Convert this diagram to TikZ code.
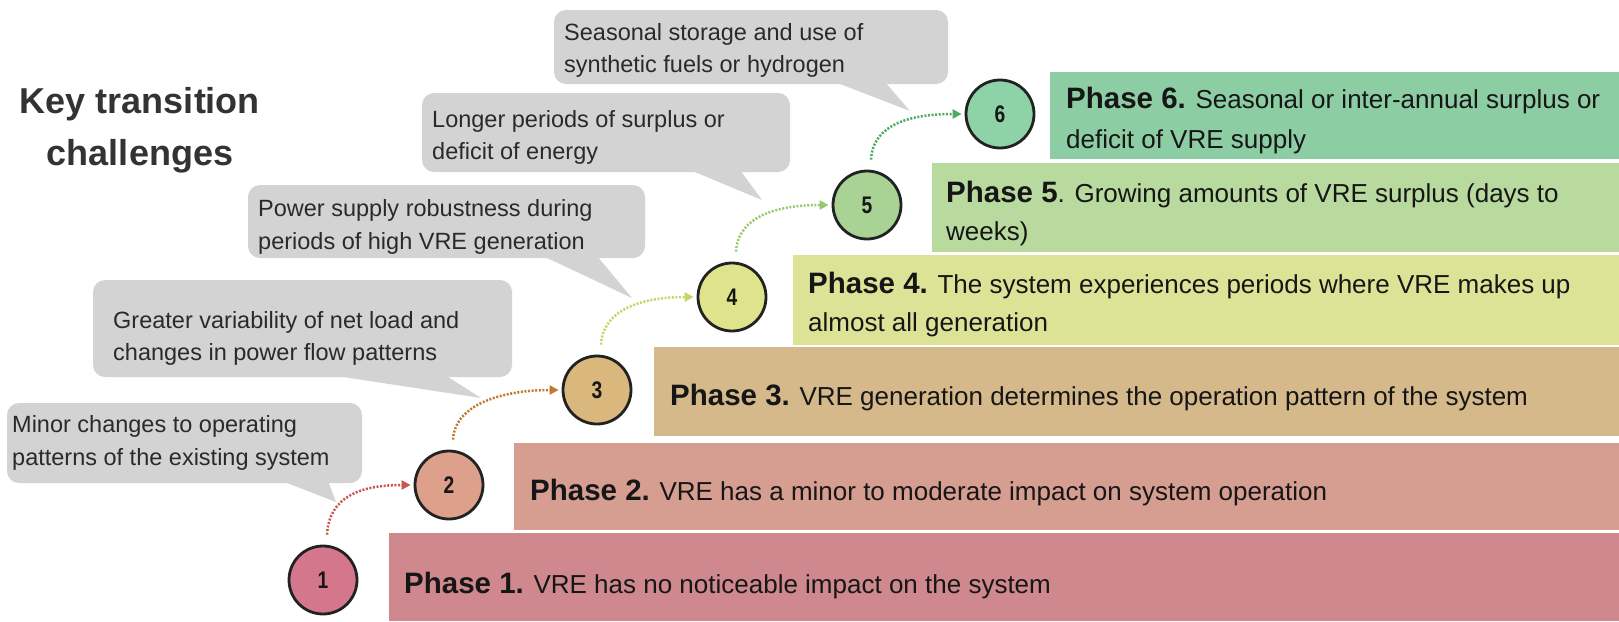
\documentclass[tikz,border=0pt]{standalone}
\usepackage{fontspec}
\setmainfont{Liberation Sans}
\newfontfamily\numfont[FakeStretch=0.8]{Liberation Sans}
\usetikzlibrary{arrows.meta,calc}

% bar fills
\definecolor{barA}{HTML}{CF888D}
\definecolor{barB}{HTML}{D69D91}
\definecolor{barC}{HTML}{D5B98B}
\definecolor{barD}{HTML}{DDE396}
\definecolor{barE}{HTML}{B9DA9E}
\definecolor{barF}{HTML}{8DCDA4}
% circle fills
\definecolor{dotA}{HTML}{D4768C}
\definecolor{dotB}{HTML}{DDA08A}
\definecolor{dotC}{HTML}{D9B77D}
\definecolor{dotD}{HTML}{DEE38C}
\definecolor{dotE}{HTML}{A8D395}
\definecolor{dotF}{HTML}{8ED3A8}
% connector colours
\definecolor{lnA}{HTML}{C8554F}
\definecolor{lnB}{HTML}{C07A2E}
\definecolor{lnC}{HTML}{C9D36A}
\definecolor{lnD}{HTML}{98C96C}
\definecolor{lnE}{HTML}{4EAA60}
\definecolor{callgrey}{HTML}{D3D3D3}
\definecolor{ring}{HTML}{222222}
\definecolor{ink}{HTML}{161616}
\definecolor{calltext}{HTML}{2A2A2A}
\definecolor{titletext}{HTML}{333333}

\newcommand\phasehead[1]{{\fontsize{29.5}{35}\selectfont\bfseries #1}}

\begin{document}
\begin{tikzpicture}[x=1pt,y=-1pt,
  stage/.style={circle, draw=ring, line width=2.8pt, minimum size=68pt, inner sep=0pt,
    text=ink, font=\numfont\bfseries\fontsize{24}{24}\selectfont},
  phasetext/.style={anchor=base west, inner sep=0pt, text=ink,
    font=\fontsize{26}{31}\selectfont},
  calltxt/.style={anchor=base west, inner sep=0pt, text=calltext,
    font=\fontsize{23.5}{32}\selectfont},
  titletxt/.style={anchor=base, inner sep=0pt, text=titletext,
    font=\fontsize{36}{44}\selectfont\bfseries},
  callbox/.style={fill=callgrey, rounded corners=12pt},
  callptr/.style={fill=callgrey},
  link/.style={line width=2.5pt, dash pattern=on 2pt off 1.6pt,
    -{Triangle[length=9pt,width=9pt]}}
]
\useasboundingbox (0,0) rectangle (1619,621);
\fill[white] (0,0) rectangle (1619,621);

% staircase of phase bars
\fill[barA] (389,533) rectangle (1619,621);
\fill[barB] (514,443) rectangle (1619,530);
\fill[barC] (654,347) rectangle (1619,436);
\fill[barD] (793,255) rectangle (1619,345);
\fill[barE] (932,163) rectangle (1619,252);
\fill[barF] (1050,72) rectangle (1619,159);

% phase descriptions
\node[phasetext] (p1) at (404,593) {\phasehead{Phase 1.} VRE has no noticeable impact on the system};
\node[phasetext] (p2) at (530,500) {\phasehead{Phase 2.} VRE has a minor to moderate impact on system operation};
\node[phasetext] (p3) at (670,405) {\phasehead{Phase 3.} VRE generation determines the operation pattern of the system};
\node[phasetext] (p4) at (808,293) {\phasehead{Phase 4.} The system experiences periods where VRE makes up};
\node[phasetext] (p4b) at (808,331) {almost all generation};
\node[phasetext] (p5) at (946,202) {\phasehead{Phase 5}. Growing amounts of VRE surplus (days to};
\node[phasetext] (p5b) at (946,240) {weeks)};
\node[phasetext] (p6) at (1066,108) {\phasehead{Phase 6.} Seasonal or inter-annual surplus or};
\node[phasetext] (p6b) at (1066,148) {deficit of VRE supply};

% title
\node[titletxt] (title1) at (140,113) {Key transition};
\node[titletxt] (title2) at (140,165) {challenges};

% callouts: rounded box plus a wedge pointing at the step
\fill[callbox] (554,10) rectangle (948,84);
\fill[callptr] (835,82) -- (885,82) -- (910,111) -- cycle;
\coordinate (tipE) at (910,111);
\fill[callbox] (422,93) rectangle (790,172);
\fill[callptr] (690,170) -- (740,170) -- (762,200) -- cycle;
\coordinate (tipD) at (762,200);
\fill[callbox] (248,185) rectangle (645,258);
\fill[callptr] (543,256) -- (597,256) -- (632,298) -- cycle;
\coordinate (tipC) at (632,298);
\fill[callbox] (93,280) rectangle (512,377);
\fill[callptr] (330,375) -- (445,375) -- (481,398) -- cycle;
\coordinate (tipB) at (481,398);
\fill[callbox] (7,403) rectangle (362,483);
\fill[callptr] (282,481) -- (328,481) -- (336,502) -- cycle;
\coordinate (tipA) at (336,502);

\node[calltxt] (tE1) at (564,40) {Seasonal storage and use of};
\node[calltxt] (tE2) at (564,72) {synthetic fuels or hydrogen};
\node[calltxt] (tD1) at (432,127) {Longer periods of surplus or};
\node[calltxt] (tD2) at (432,159) {deficit of energy};
\node[calltxt] (tC1) at (258,216) {Power supply robustness during};
\node[calltxt] (tC2) at (258,249) {periods of high VRE generation};
\node[calltxt] (tB1) at (113,328) {Greater variability of net load and};
\node[calltxt] (tB2) at (113,360) {changes in power flow patterns};
\node[calltxt] (tA1) at (12,432) {Minor changes to operating};
\node[calltxt] (tA2) at (12,465) {patterns of the existing system};

% numbered steps
\node[stage, fill=dotA] (c1) at (323,580) {1};
\node[stage, fill=dotB] (c2) at (449,485) {2};
\node[stage, fill=dotC] (c3) at (597,390) {3};
\node[stage, fill=dotD] (c4) at (732,297) {4};
\node[stage, fill=dotE] (c5) at (867,205) {5};
\node[stage, fill=dotF] (c6) at (1000,114) {6};

% dotted connectors between consecutive steps
\draw[link, lnA] ($(c1.north)+(4,-10)$) .. controls +(2,-38) and +(-50,0) .. ($(c2.west)+(-3,0)$);
\draw[link, lnB] ($(c2.north)+(4,-10)$) .. controls +(2,-38) and +(-50,0) .. ($(c3.west)+(-3,0)$);
\draw[link, lnC] ($(c3.north)+(4,-10)$) .. controls +(2,-36) and +(-50,0) .. ($(c4.west)+(-3,0)$);
\draw[link, lnD] ($(c4.north)+(4,-10)$) .. controls +(2,-36) and +(-50,0) .. ($(c5.west)+(-3,0)$);
\draw[link, lnE] ($(c5.north)+(4,-10)$) .. controls +(2,-36) and +(-50,0) .. ($(c6.west)+(-3,0)$);
\end{tikzpicture}
\end{document}
